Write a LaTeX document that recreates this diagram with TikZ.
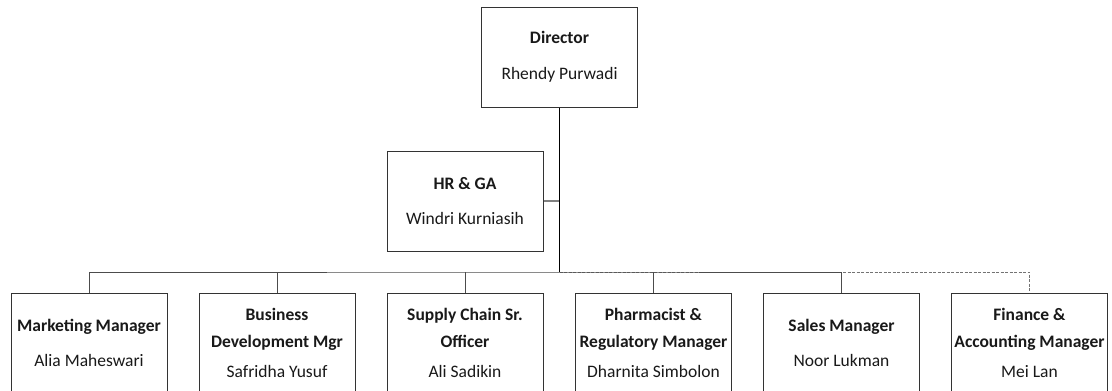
\documentclass[tikz,border=0pt]{standalone}
\usepackage{fontspec}
\setmainfont{Carlito}
\begin{document}
\begin{tikzpicture}[x=1pt,y=-1pt,
  orgbox/.style={draw=black!80,line width=1pt,fill=white,minimum width=156pt,minimum height=100pt,
    inner sep=0pt,align=center,text=black!90,font=\fontsize{17.5}{27}\selectfont},
  trunk/.style={draw=black,line width=1.6pt},
  link/.style={draw=black!70,line width=1pt},
  sidelink/.style={draw=black!50,line width=1.3pt},
  dotlink/.style={draw=black!55,line width=1pt,dash pattern=on 3pt off 1.5pt}]
\useasboundingbox (0,0) rectangle (1112,391);
\fill[white] (0,0) rectangle (1112,391);
\node[orgbox] (dir) at (559.5,57) {\textbf{Director}\\[9pt]Rhendy Purwadi};
\node[orgbox] (hr) at (465,201) {\textbf{HR \& GA}\\[8pt]Windri Kurniasih};
\node[orgbox] (mk) at (89,343) {\textbf{Marketing Manager}\\[8pt]Alia Maheswari};
\node[orgbox] (bd) at (277,343) {\textbf{Business}\\\textbf{Development Mgr}\\[3pt]Safridha Yusuf};
\node[orgbox] (sc) at (465,343) {\textbf{Supply Chain Sr.}\\\textbf{Officer}\\[3pt]Ali Sadikin};
\node[orgbox] (ph) at (653.5,343) {\textbf{Pharmacist \&}\\\textbf{Regulatory Manager}\\[3pt]Dharnita Simbolon};
\node[orgbox] (sm) at (841.5,343) {\textbf{Sales Manager}\\[8pt]Noor Lukman};
\node[orgbox] (fa) at (1029.5,343) {\textbf{Finance \&}\\\textbf{Accounting Manager}\\[3pt]Mei Lan};
\coordinate (bus) at (559.5,272);
\draw[dotlink] (bus) -| (fa.north);
\draw[link] (mk.north) |- (bus) -| (sm.north);
\draw[link] (bd.north) -- (bd.north |- bus);
\draw[link] (sc.north) -- (sc.north |- bus);
\draw[link] (ph.north) -- (ph.north |- bus);
\draw[sidelink] (hr.east) -- (hr.east -| dir.south);
\draw[trunk] (dir.south) -- (bus);
\end{tikzpicture}
\end{document}
